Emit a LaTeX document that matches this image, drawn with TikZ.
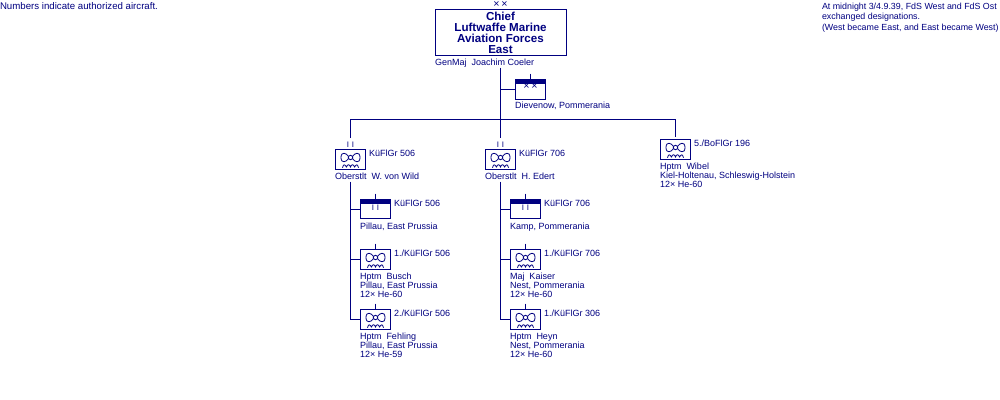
\documentclass[tikz,border=0pt]{standalone}
\usepackage{fontspec}
\setmainfont{Liberation Sans}
\definecolor{navy}{HTML}{000080}
\tikzset{
  lbl/.style={anchor=north west,inner sep=0pt,outer sep=0pt,align=left,text=navy,font=\fontsize{6.75}{6.9}\selectfont},
  sym/.style={anchor=center,inner sep=0pt,outer sep=0pt,text=navy,font=\fontsize{6}{6}\selectfont},
  crossed/.style={sym,font=\fontsize{8}{8}\selectfont},
  title/.style={anchor=center,inner sep=0pt,align=center,text=navy,font=\fontsize{8.7}{8.25}\selectfont\bfseries},
  conn/.style={draw=navy,line width=0.75pt},
  unitbox/.style={draw=navy,line width=0.75pt,fill=white,rectangle,minimum width=22.5pt,minimum height=15pt,inner sep=0pt,outer sep=0pt},
  hqbox/.style={unitbox,minimum height=14.25pt},
  aviation/.pic={
    \draw[navy,line width=0.6pt] (0,-2) circle (2.2);
    \draw[navy,line width=0.6pt] (2,-3) .. controls (4,-6.5) and (9.5,-8.5) .. (9.5,-2) .. controls (9.5,4.5) and (4,2.5) .. (2,-1);
    \draw[navy,line width=0.6pt] (-2,-3) .. controls (-4,-6.5) and (-9.5,-8.5) .. (-9.5,-2) .. controls (-9.5,4.5) and (-4,2.5) .. (-2,-1);
    \draw[navy,line width=0.6pt] (-8,8.2) .. controls (-7,4.5) and (-6,4.5) .. (-4,7.5) .. controls (-3,4.5) and (-1,4.5) .. (0,7.5) .. controls (1,4.5) and (3,4.5) .. (4,7.5) .. controls (6,4.5) and (7,4.5) .. (8,8.2);
  }
}
\newcommand{\airunit}[5]{%
  \node[unitbox] (#1) at (#2,#3) {};
  \pic at (#1.center) {aviation};
  \node[lbl,anchor=west] (#1lab) at (#2+18.5,#3-6.5) {#4};
  \node[lbl] (#1txt) at (#2-15.5,#3+13.5) {#5};
}
\newcommand{\hqunit}[5]{%
  \node[hqbox] (#1) at (#2,#3) {};
  \fill[navy] (#1.north west) rectangle ([yshift=-3pt]#1.north east);
  \node[sym] (#1sym) at (#2,#3-1.5) {#5};
  \node[lbl,anchor=west] (#1lab) at (#2+18.5,#3-6) {#4};
}
\begin{document}
\begin{tikzpicture}[x=0.75pt,y=-0.75pt]
\useasboundingbox (0,0) rectangle (1000,400);
% notes
\node[lbl,font=\fontsize{7.25}{7.25}\selectfont] (noteL) at (0,2) {Numbers indicate authorized aircraft.};
\node[lbl,font=\fontsize{6.65}{7.75}\selectfont] (noteR) at (822,3) {At midnight 3/4.9.39, FdS West and FdS Ost\\exchanged designations.\\(West became East, and East became West)};
% chief
\node[draw=navy,line width=0.75pt,rectangle,minimum width=98.25pt,minimum height=34.5pt,inner sep=0pt,outer sep=0pt] (chief) at (500.5,32.5) {};
\node[title] (chieftxt) at (chief.center) {Chief\\Luftwaffe Marine\\Aviation Forces\\East};
\node[crossed] (chiefxx) at (500.5,5) {×\,×};
\node[lbl] (chiefname) at (435,59) {GenMaj\ \ Joachim Coeler};
\coordinate (trunktop) at (500.5,67.5);
\coordinate (bar) at (500.5,119.5);
% staff
\node[unitbox] (hqC) at (530.5,89.5) {};
\fill[navy] (hqC.north west) rectangle ([yshift=-3pt]hqC.north east);
\node[crossed] (hqCsym) at (530.5,87) {×\,×};
\node[lbl] (hqCtxt) at (515,102) {Dievenow, Pommerania};
\draw[conn] ([yshift=4.5pt]hqC.north) -- ([yshift=0.75pt]hqC.north);
% units
\airunit{w}{350.5}{159.5}{KüFlGr 506}{Oberstlt\ \ W. von Wild}
\airunit{m}{500.5}{159.5}{KüFlGr 706}{Oberstlt\ \ H. Edert}
\airunit{r}{675.5}{149.5}{5./BoFlGr 196}{Hptm\ \ Wibel\\Kiel-Holtenau, Schleswig-Holstein\\12× He-60}
\node[sym] (wII) at (350.5,145) {I\,\,I};
\node[sym] (mII) at (500.5,145) {I\,\,I};
\coordinate (wtop) at (350.5,138);
\coordinate (mtop) at (500.5,138);
\coordinate (rtop) at (675.5,137);
\coordinate (wbot) at (350.5,181.5);
\coordinate (mbot) at (500.5,181.5);
% left column
\hqunit{wh}{375.5}{209}{KüFlGr 506}{I\,\,I}
\node[lbl] (whtxt) at (360,223) {Pillau, East Prussia};
\airunit{wa}{375.5}{259.5}{1./KüFlGr 506}{Hptm\ \ Busch\\Pillau, East Prussia\\12× He-60}
\airunit{wb}{375.5}{319.5}{2./KüFlGr 506}{Hptm\ \ Fehling\\Pillau, East Prussia\\12× He-59}
% middle column
\hqunit{mh}{525.5}{209}{KüFlGr 706}{I\,\,I}
\node[lbl] (mhtxt) at (510,223) {Kamp, Pommerania};
\airunit{ma}{525.5}{259.5}{1./KüFlGr 706}{Maj\ \ Kaiser\\Nest, Pommerania\\12× He-60}
\airunit{mb}{525.5}{319.5}{1./KüFlGr 306}{Hptm\ \ Heyn\\Nest, Pommerania\\12× He-60}
% ticks
\foreach \n in {wh,wa,wb,mh,ma,mb}{
  \draw[conn] ([yshift=4.5pt]\n.north) -- ([yshift=0.75pt]\n.north);
}
% connectors
\draw[conn] (trunktop) -- (bar);
\draw[conn] (trunktop |- hqC.west) -- (hqC.west);
\draw[conn] (wtop) |- (bar) -| (rtop);
\draw[conn] (bar) -- (mtop);
\draw[conn] (wbot) |- (wb.west);
\draw[conn] (wbot |- wh.west) -- (wh.west);
\draw[conn] (wbot |- wa.west) -- (wa.west);
\draw[conn] (mbot) |- (mb.west);
\draw[conn] (mbot |- mh.west) -- (mh.west);
\draw[conn] (mbot |- ma.west) -- (ma.west);
\end{tikzpicture}
\end{document}
